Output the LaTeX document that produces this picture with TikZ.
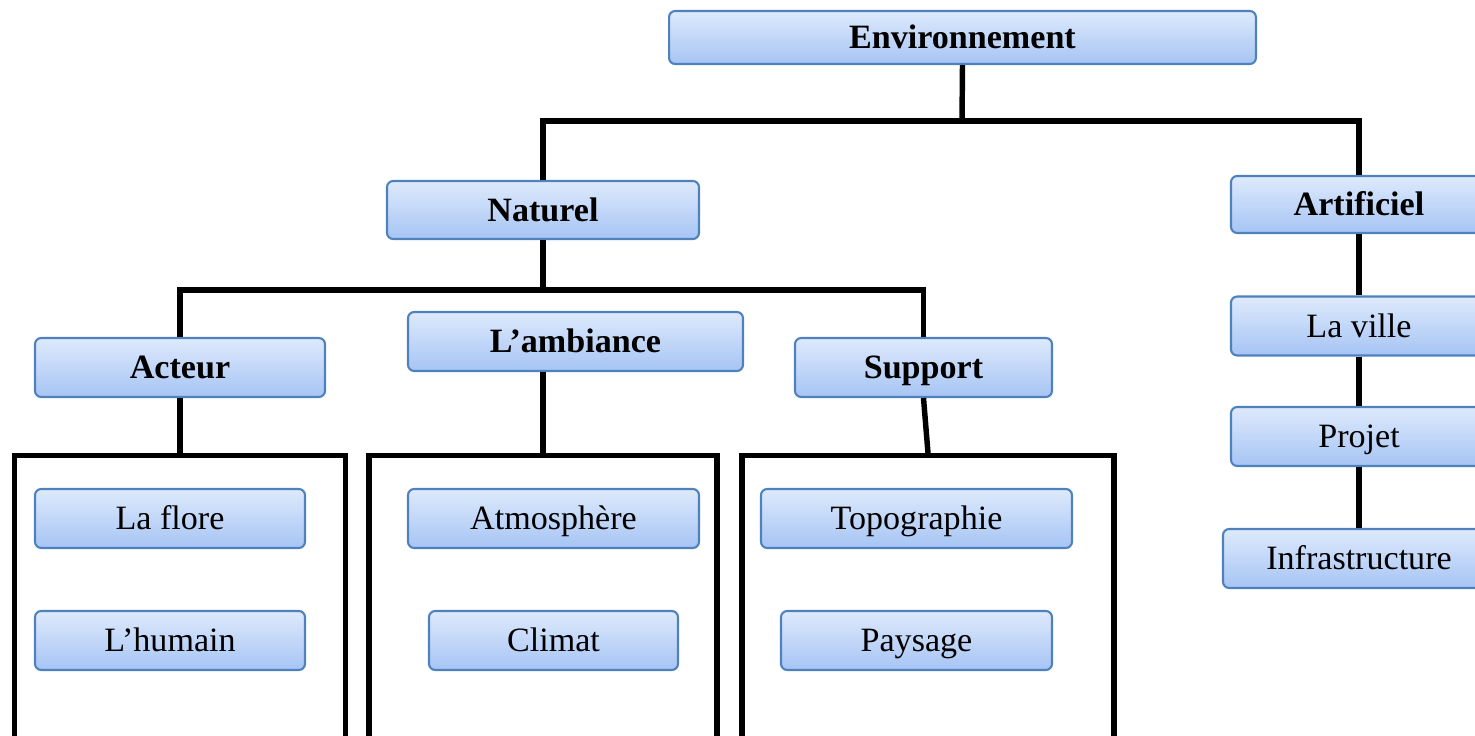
\documentclass[tikz,border=0pt]{standalone}
\usepackage{fontspec}
\setmainfont{Liberation Serif}
\usetikzlibrary{calc}

\definecolor{boxline}{RGB}{79,129,189}
\definecolor{boxtop}{RGB}{222,234,252}
\definecolor{boxbottom}{RGB}{166,196,244}

\tikzset{
	box/.style={draw=boxline, line width=1.2pt, rounded corners=3.5pt, top color=boxtop, bottom color=boxbottom,
		minimum height=1.18cm, inner sep=0pt, text height=12.8pt, text depth=0pt,
		font=\fontsize{19.4}{23}\selectfont},
	head/.style={box, font=\fontsize{19.4}{23}\selectfont\bfseries},
	link/.style={line width=3.1pt},
	frame/.style={draw, line width=3.1pt, minimum height=7cm, inner sep=0pt, anchor=north},
}

\begin{document}
\begin{tikzpicture}[x=0.02cm, y=-0.02cm]
		\clip (0,0) rectangle (1475,736);
		% open frames round the lower groups
		\node[frame, minimum width=6.62cm] (fr1) at (180,453) {};
		\node[frame, minimum width=6.96cm] (fr2) at (543,453) {};
		\node[frame, minimum width=7.44cm] (fr3) at (928,453) {};
		% boxes
		\node[head, minimum width=11.74cm, minimum height=1.06cm] (env) at (962.5,37.5) {Environnement};
		\node[head, minimum width=6.24cm, minimum height=1.16cm] (nat) at (543,210) {Naturel};
		\node[head, minimum width=5.12cm, minimum height=1.14cm] (art) at (1359,204.5) {Artificiel};
		\node[head, minimum width=5.8cm] (act) at (180,367.5) {Acteur};
		\node[head, minimum width=6.7cm] (amb) at (575.5,341.5) {L'ambiance};
		\node[head, minimum width=5.14cm] (sup) at (923.5,367.5) {Support};
		\node[box, minimum width=5.12cm] (ville) at (1359,326) {La ville};
		\node[box, minimum width=5.12cm] (projet) at (1359,436.5) {Projet};
		\node[box, minimum width=5.44cm] (infra) at (1359,558.5) {Infrastructure};
		\node[box, minimum width=5.4cm] (flore) at (170,518.5) {La flore};
		\node[box, minimum width=5.4cm] (humain) at (170,640.5) {L'humain};
		\node[box, minimum width=5.82cm] (atmo) at (553.5,518.5) {Atmosphère};
		\node[box, minimum width=4.98cm] (climat) at (553.5,640.5) {Climat};
		\node[box, minimum width=6.22cm] (topo) at (916.5,518.5) {Topographie};
		\node[box, minimum width=5.42cm] (pays) at (916.5,640.5) {Paysage};
		% tree lines
		\coordinate (h1) at (962,121);
		\coordinate (h2) at (543,290);
		\draw[link] (env.south) -- (h1);
		\draw[link] (nat.north) |- (h1) -| (art.north);
		\draw[link] (nat.south) -- (h2);
		\draw[link] (act.north) |- (h2) -| (sup.north);
		\draw[link] (act.south) -- (fr1.north);
		\draw[link] (fr2.north |- amb.south) -- (fr2.north);
		\draw[link] (sup.south) -- (fr3.north);
		\draw[link] (art) -- (ville) (ville) -- (projet) (projet) -- (infra);
	\end{tikzpicture}
\end{document}
